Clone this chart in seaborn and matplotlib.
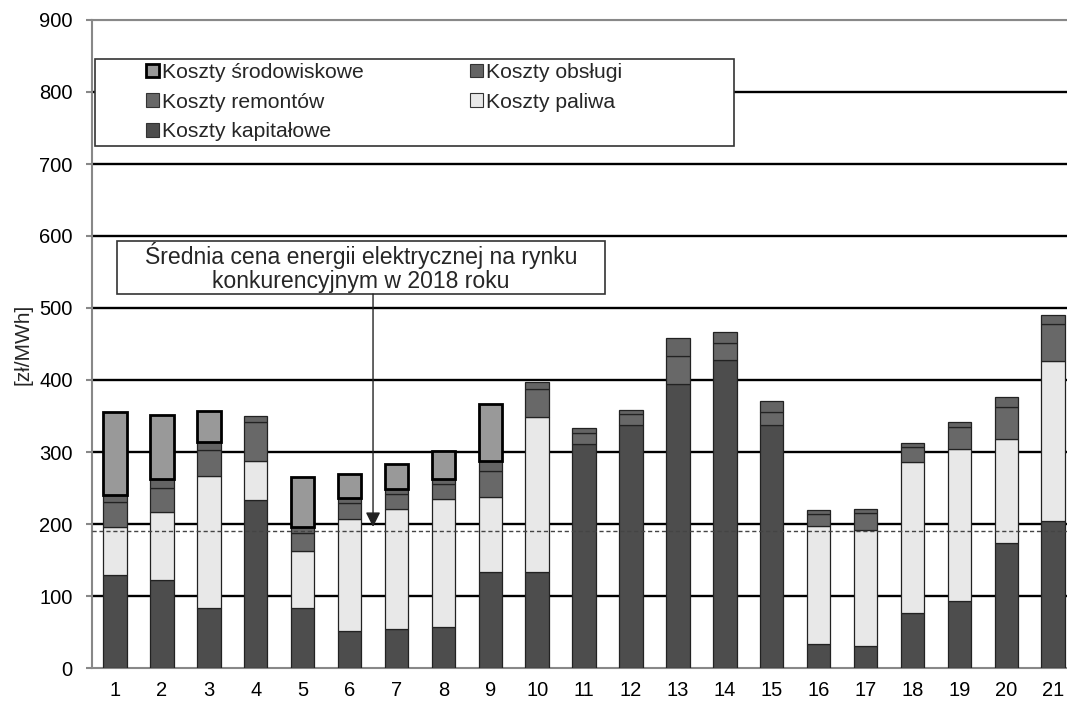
import numpy as np
import pandas as pd
import matplotlib
matplotlib.use("Agg")
import matplotlib.pyplot as plt
from matplotlib.patches import Patch, Rectangle
import seaborn as sns

# ---- data (zł/MWh) ----
units = [str(i) for i in range(1, 22)]
kapitalowe = [129, 122, 84, 234, 84, 52, 54, 57, 133, 133, 311, 337, 395, 428, 337, 33, 31, 77, 93, 174, 204]
paliwa = [67, 94, 183, 54, 79, 155, 167, 178, 104, 215, 0, 0, 0, 0, 0, 164, 161, 209, 211, 144, 222]
remontow = [35, 33.5, 36, 53, 24, 22, 21, 21, 37, 39, 15, 16, 39, 24, 19, 17, 23, 21, 31, 45, 52]
obslugi = [9, 12.5, 11, 9, 9, 7, 7, 7, 13, 10, 7, 6, 24, 14, 15, 6, 6, 6, 7, 13, 12]
srodowiskowe = [115, 89.5, 43, 0, 69, 34, 35, 38, 80, 0, 0, 0, 0, 0, 0, 0, 0, 0, 0, 0, 0]
avg_price = 190

labels = {
    "kap": "Koszty kapitałowe",
    "pal": "Koszty paliwa",
    "rem": "Koszty remontów",
    "obs": "Koszty obsługi",
    "env": "Koszty środowiskowe",
}
annot_text = "Średnia cena energii elektrycznej na rynku\nkonkurencyjnym w 2018 roku"
ylabel = "[zł/MWh]"

df = pd.DataFrame({"nr": units, "kap": kapitalowe, "pal": paliwa,
                   "rem": remontow, "obs": obslugi, "env": srodowiskowe})

sns.set_style("white")
plt.rcParams["font.family"] = ["Liberation Sans", "DejaVu Sans"]

W, H = 1067, 701
fig = plt.figure(figsize=(W / 100, H / 100), dpi=100)
ax = fig.add_axes([91.6 / W, 33 / H, 985 / W, 648 / H])

colors = {"kap": "#4d4d4d", "pal": "#e8e8e8", "rem": "#686868",
          "obs": "#646464", "env": "#999999"}
layers = ["kap", "pal", "rem", "obs", "env"]
bottom = np.zeros(len(df))
for key in layers:
    is_env = key == "env"
    sns.barplot(data=df, x="nr", y=key, bottom=bottom, color=colors[key],
                saturation=1, width=0.5, errorbar=None, ax=ax,
                edgecolor="#000000" if is_env else "#222222",
                linewidth=2.0 if is_env else 0.9, zorder=3 if not is_env else 3.5)
    cont = ax.containers[-1]
    for patch, v in zip(cont.patches, df[key].values):
        if v == 0:
            patch.set_visible(False)
    bottom = bottom + df[key].values

ax.set_xlim(-0.5, 20.5)
ax.set_ylim(0, 900)
ax.set_yticks(np.arange(0, 901, 100))
ax.set_xticks(range(len(units)))
ax.set_xticklabels(units)
ax.set_xticks(np.arange(-0.5, 21, 1), minor=True)
ax.set_xlabel("")
ax.set_ylabel(ylabel, fontsize=15)
ax.yaxis.set_label_coords(-0.0605, 0.5)

ax.tick_params(axis="x", which="major", length=0, labelsize=14.5, pad=9, labelcolor="black")
ax.tick_params(axis="x", which="minor", length=4, width=1.5, color="#888888", direction="out")
ax.tick_params(axis="y", length=4, width=1.5, color="#888888", direction="out",
               labelsize=14.5, pad=9.5, left=True, labelcolor="black")

ax.set_axisbelow(True)
ax.yaxis.grid(True, color="black", lw=1.7)
for val, gl in zip(ax.get_yticks(), ax.get_ygridlines()):
    if val == 0:
        gl.set_visible(False)
    elif val == 900:
        gl.set_color("#888888")
        gl.set_linewidth(1.5)

for side in ["left", "bottom", "top"]:
    ax.spines[side].set_visible(True)
    ax.spines[side].set_color("#888888")
    ax.spines[side].set_linewidth(1.5)
ax.spines["right"].set_visible(False)

# average price line
ax.axhline(avg_price, color="#444444", lw=1.0, ls=(0, (3, 2)), zorder=5)

# annotation box + arrow
ax.add_patch(Rectangle((0.043, 519.4), 10.405, 74.1, facecolor="white",
                       edgecolor="#333333", lw=1.2, zorder=6))
ax.text(5.245, 556, annot_text, ha="center", va="center", fontsize=16.6,
        linespacing=1.05, zorder=7)
ax.annotate("", xy=(5.5, 196), xytext=(5.5, 519.4),
            arrowprops=dict(arrowstyle="-|>", color="#222222", lw=1.0,
                            mutation_scale=22, shrinkA=0, shrinkB=0), zorder=7)

# legend frame + legend
fig.add_artist(Rectangle((95 / W, 1 - 146 / H), 639 / W, 87 / H,
                         transform=fig.transFigure, facecolor="white",
                         edgecolor="#333333", lw=1.2, zorder=10))
order = ["env", "rem", "kap", "obs", "pal"]
handles = [Patch(facecolor=colors[k], edgecolor="#000000" if k == "env" else "#333333",
                 lw=2.0 if k == "env" else 0.8, label=labels[k]) for k in order]
leg = fig.legend(handles=handles, loc="upper left",
                 bbox_to_anchor=(146 / W, 1 - 63 / H), bbox_transform=fig.transFigure,
                 ncol=2, frameon=False, fontsize=15.2, borderpad=0, borderaxespad=0,
                 handlelength=0.62, handleheight=0.62, handletextpad=0.15,
                 columnspacing=5.0, labelspacing=0.5)
leg.set_zorder(11)

fig.savefig("out.png", dpi=100)
